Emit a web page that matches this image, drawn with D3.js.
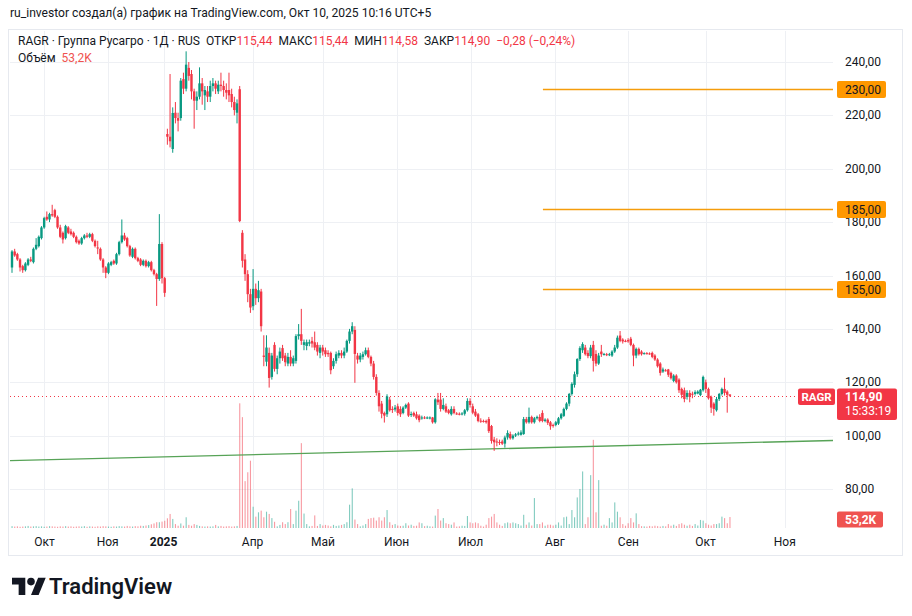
<!DOCTYPE html>
<html>
<head>
<meta charset="utf-8">
<script src="https://cdn.jsdelivr.net/npm/d3@7"></script>
<style>
  body { margin: 0; background: #fff; }
  text { white-space: pre; }
</style>
</head>
<body>
<div id="chart"></div>
<script>
// daily bars, [open, high, low, close]
const ohlc = [
  [163,169.5,161,169],[169,170,167,167.5],[168,168.5,165.5,166],[166,166.5,161.5,163],[163.5,164,161,162],
  [162,165,161.5,164.5],[164,166.5,163.5,166],[166,167,165,165.5],[165,170.5,164.5,170],[170,174,169.5,171.5],
  [171,175,170.5,174.5],[174,178.5,173.5,178],[178,182,177.5,181.5],[182,184,180.5,181],[181,183.5,180,183],
  [183,186.5,182,182.5],[184.5,185,181.5,182],[182,182.5,177.5,178],[178,179,174,174.5],[176,176.5,172,173.5],
  [174,179,173.5,178.5],[178,178.5,175.5,176],[176.5,177.5,175,175.5],[176,176.5,174,174.5],[174.5,175,172,172.5],
  [173,173.5,171.5,172],[172,174.5,171.5,174],[174,175.5,173.5,175],[175,176,174,174.5],[174.5,176,174,175.5],
  [175.5,176,172.5,173],[173,173.5,170.5,171],[170.5,173,168,170.2],[170,170.5,165.5,166],[166,166.5,161,163],
  [163,163.5,159,161],[161,165,160.5,164.5],[164,165.5,163.5,165],[165.5,166,164,164.5],[164.5,168.5,164,168],
  [168,173,167.5,172.5],[172.5,181,172,175],[175,176,173,173.5],[174,174.5,170.5,171],[171,171.5,167,167.5],
  [167,170.5,166.5,170],[170,170.5,166,166.5],[166.5,167,165,165.5],[166,166.5,163.5,164],[164,166,163.5,165.5],
  [165.5,166,163,163.5],[163.5,165.5,163,165],[165,165.5,161.5,162],[162,162.5,160,160.5],[160.5,161,148.6,158.7],
  [158.7,183,158,171.8],[171.8,172.5,157,159],[159,159.5,152,153.5],
  [213,215,209,212],[212,235.5,208,210.3],[207.4,223,206,220.9],[221,225,217,219],[219,221,214,218],
  [219,234,218,233],[233.6,236,228,230],[230,244,229,239],[237.8,240,233,234.8],[235.5,237,226,229],
  [229,230,215,225.5],[225.5,229,222,227],[227,238,226,232],[232,234,224,229],[227.5,231,222,229.5],
  [229,231,225,227],[227,233,225,231],[231,234,229,232],[232,233,228,230],[229,233,228,231.5],
  [231.5,236,229,231],[231,233,227,229.5],[229.5,232,226,228.5],[229.5,236,225,227.5],[228,230,223,225],
  [225,227,220,222],[221,226,217,224.5],[229.8,231,180,180.4],
  [176,177,163,165.5],[166,168,158,160.5],[160.5,162,150,153],[153,155,146,148],[148.5,162.4,147,155],
  [155,157,149,151.5],[151.5,158,150,154.5],[154,155,139,141],[130,137.6,126,129.5],[127.7,137.6,126,133],
  [131,133,118,121.6],[122,131,121,130],[134,135,124,125],[125,130,123,129],[129,133,127,131.5],
  [132.8,134,128,129],[130,131,126,127.5],[127,131,126,129.5],[129.5,132,126,127],[127,130,126,129],
  [128,138,127,137.3],[137.3,141.8,136,138],[138,147.5,134,135.5],[134,136,132,135],[133.6,136,132,135],
  [134.5,136,133.5,135],[135.5,137,133,134.5],[135,139,132,133],[134,135,130,131.5],[131,134,129,133],
  [133,134,130,131.5],[132,133,129.5,130.5],[131,132,129.5,130.5],[131,131.5,123,124.5],[126,129,125,128],
  [128,131.5,127,130.5],[130,132,129,131],[131,132,129,130],[130,133,129,131.5],[131.5,136,131,135.5],
  [135.5,140,134.5,139],[139,142.5,138,141],[139.6,141,119.8,130.6],[130,131,127,128.5],[128.5,131,127.5,130],
  [129.5,131.5,128.5,130.5],[130.5,133,130,132],[132,133,129,129.5],[129.5,130,126,127],[127,128,121,122],
  [122,123,115,116],[116,117,109,111],[112,113,106.5,108.2],[108.5,109,104.9,107.5],[108,115.5,107,114.7],
  [113.5,114.5,109,109.5],[110,111,108.5,109.8],[109.8,111.5,109,110.5],[111,112,107.5,108.5],[110,111,107,108],
  [108.5,111,108,110.5],[110.5,112,110,111.5],[112,112.5,107,107.5],[108,109,107,108.1],[108.5,109,107,107.5],
  [108,109,106,106.5],[107.5,108,105,105.8],[106.7,107.5,106,106.8],[106.8,107.3,106.2,106.6],[106.7,107.2,106.2,106.8],
  [106.5,107.2,106.1,106.8],[106.8,107,104.5,105],[105,114,104.5,113.6],[113.5,116,111.5,112.5],[113.5,116,109,110],
  [110,114,109.5,111.5],[111,112,108.5,109],[109.5,110,108,108.5],[108,111,107.5,110],[110,111,108,108.5],
  [108.3,108.8,107.8,108.2],[108.2,108.7,107.6,108],[108,108.8,107.6,108.3],[108.2,110,107.5,109.5],[109.5,114,109,113],
  [113,114,110.5,111.5],[111,112,108,108.6],[109,110,107,107.5],[108,108.5,105,105.5],[105.6,106.5,104.8,105.5],
  [105.5,106,104.9,105.3],[105.5,106,104.5,105],[106.2,107,101,101.7],[103.6,104,97,98],[98.5,99.5,94.3,97.5],
  [97.8,99,96,97.5],[97.6,98.5,96.5,97.5],[97.8,98.5,96.5,97],[97,100,95.5,99.3],[99.3,102,98.5,101],
  [100.6,101.5,98.5,99],[99,100.5,98.5,100],[100,101,99.5,100.5],[100.5,101.5,100,100.8],[100.3,102,100,101.2],
  [100.6,107,100.3,106.2],[106.2,107,104.5,105],[105,110.5,104.5,107],[107,107.5,104.5,105],[105,107,104.5,106.5],
  [106.5,107.5,106,107],[107,108,105,105.5],[108.5,109.5,105,105.5],[105.5,106.5,105,106],[106,106.5,104,104.8],
  [105,105.5,102.2,103.5],[104,104.5,103,103.8],[104,105.5,103.5,105],[104.5,107,104,106.5],[106.5,108.5,106,108],
  [107.4,110.5,107,110],[110,112.5,109.5,112],[112,116,111,115.6],[115.6,120,115,119.4],[119,124,118,123],
  [123,129,122,128.7],[128.7,133.5,128,132.8],[132,135,131,134.3],[133,134,130,130.5],[131,132,129,129.8],
  [129.8,134,129,133],[134,135.5,124,128],[130.6,132,126,127],[127,131,126.5,130],[131.5,134,129.5,130.5],
  [130.5,131,130,130.6],[130.5,131,129.8,130.3],[130.3,131,129.8,130.5],[130,132,129.5,131.5],[131.5,134,131,133],
  [133,137.5,132.5,136.7],[137.5,139.2,135,135.5],[136,136.5,134.5,135.3],[135.5,136,135,135.4],[135.8,136.5,134.8,135.3],
  [136.3,137,133.5,134],[134,134.5,126,130],[130,133,129,132.5],[132.5,133,130,130.5],[131.5,132,130,130.5],
  [130.8,131.2,130.4,130.9],[130.9,131.3,130.4,130.8],[130.8,131.2,130.3,130.7],[131,131.5,129,129.5],[130,130.5,128,128.5],
  [128.5,129,125.5,126],[127,127.5,122.5,123.5],[124,125.5,123.5,124.8],[124.5,125,124,124.4],[124.8,125,122,122.8],
  [123.5,124,121,121.5],[120.5,123,120,122.5],[122.5,123,119.5,120],[121,121.5,116,117],[117.5,118,114,115.3],
  [117,118,112.5,113.7],[114.5,117,113.5,116],[116,117,112.5,114.5],[115.7,116.5,114,115.5],[115.6,117,115,116.3],
  [115.8,117,115.5,116.5],[115.2,117.5,114.8,117.2],[117,122.5,116.5,122],[120,121,116,117.5],[117.5,118,113.5,114],
  [114.5,115,108.5,110.5],[112,112.5,107.5,110],[109.5,114.5,109,113.7],[113.7,116,113,115.6],[115.6,118,115,117.5],
  [117.5,121.7,115,116],[116.5,117,108.6,115.3],[115.44,115.44,114.58,114.9]
];

// volume, thousands of shares
const volumes = [
  9,7,8,6,7,8,10,7,8,9, 7,8,6,7,9,8,7,6,8,7, 9,7,8,6,7,8,7,9,6,8,
  7,6,8,7,9,8,7,6,8,7, 9,8,7,10,8,7,9,8,11,10, 12,14,18,22,
  28,28,31,35,
  47,68,44,19,11,22,11,52,15,11,19,15,10,
  8,7,8,7,8,15,8,10,7,8,9,7,8,10,
  604,537,227,270,326,103,55,76,84,52,
  79,68,48,30,8,15,28,19,28,92,
  19,84,132,411,70,19,8,10,61,10,
  19,12,15,12,8,15,10,12,15,19,
  28,113,192,41,19,8,12,19,44,48,
  50,36,52,36,52,87,28,15,19,12,
  10,11,23,12,16,10,11,27,23,9,
  11,8,7,60,92,36,48,23,19,16,
  27,7,8,11,10,58,27,23,27,23,
  11,7,16,48,55,68,27,16,10,23,
  27,23,27,23,19,12,64,16,27,12,
  145,19,19,27,11,16,16,12,16,27,
  12,52,55,19,87,52,148,189,274,19,
  52,256,427,76,232,11,16,11,48,27,
  124,79,52,19,11,23,48,27,71,19,
  9,8,7,10,8,11,9,7,10,8,
  19,11,16,10,19,23,16,11,16,10,
  19,12,39,36,23,16,12,19,19,23,
  55,48,23,53.2
];

const monthLabels = ['Окт', 'Ноя', '2025', 'Апр', 'Май', 'Июн', 'Июл', 'Авг', 'Сен', 'Окт', 'Ноя'];
const monthBars = [12.1, 35.7, 56.6, 89.8, 116.1, 143.6, 171.2, 202.7, 230.1, 258.9, 288.5];
const priceTicks = [80, 100, 120, 140, 160, 180, 200, 220, 240];
const levels = [230, 185, 155];
const levelStartBar = 198.2;
const trendline = [[-0.75, 90.6], [307.6, 98.2]];
const lastClose = 114.90;

const W = 912, H = 616;
const FONT = 'Roboto, "Noto Sans", sans-serif';
const UP = '#089981', DOWN = '#F23645', LEVEL = '#FF9800';
const pane = { left: 10, right: 833, top: 31, bottom: 528 };
const fmt = v => v.toFixed(2).replace('.', ',');

const x = d3.scaleLinear().domain([0, ohlc.length - 1]).range([12, 729.9]);
const y = d3.scaleLinear().domain([80, 240]).range([489, 62]);
const yVol = d3.scaleLinear().domain([0, 620]).range([pane.bottom, pane.bottom - 128]);

const svg = d3.select('#chart').append('svg')
  .attr('width', W).attr('height', H)
  .style('font-family', FONT);

svg.append('rect').attr('width', W).attr('height', H).attr('fill', '#fff');

// header
svg.append('text')
  .attr('x', 10).attr('y', 17)
  .attr('font-size', 12.1).attr('fill', '#131722')
  .text('ru_investor создал(а) график на TradingView.com, Окт 10, 2025 10:16 UTC+5');

// chart frame
svg.append('rect')
  .attr('x', 8.5).attr('y', 29.5).attr('width', 894).attr('height', 526)
  .attr('fill', 'none').attr('stroke', '#e6e9ef');

svg.append('clipPath').attr('id', 'pane-clip')
  .append('rect')
  .attr('x', pane.left).attr('y', pane.top)
  .attr('width', pane.right - pane.left).attr('height', pane.bottom - pane.top);

const grid = svg.append('g');
grid.selectAll('.hgrid').data(priceTicks).join('line')
  .attr('x1', pane.left).attr('x2', pane.right)
  .attr('y1', d => Math.round(y(d)) + 0.5).attr('y2', d => Math.round(y(d)) + 0.5)
  .attr('stroke', '#eef0f4');
grid.selectAll('.vgrid').data(monthBars).join('line')
  .attr('x1', d => Math.round(x(d)) + 0.5).attr('x2', d => Math.round(x(d)) + 0.5)
  .attr('y1', pane.top).attr('y2', pane.bottom)
  .attr('stroke', '#eef0f4');

const plot = svg.append('g').attr('clip-path', 'url(#pane-clip)');

// volume
plot.append('g').selectAll('rect').data(volumes).join('rect')
  .attr('x', (d, i) => x(i) - 0.5)
  .attr('width', 1.1)
  .attr('y', d => yVol(d))
  .attr('height', d => pane.bottom - yVol(d))
  .attr('fill', (d, i) => ohlc[i][3] >= ohlc[i][0] ? UP : DOWN)
  .attr('fill-opacity', 0.5);

// support trend line
plot.append('line')
  .attr('x1', x(trendline[0][0])).attr('y1', y(trendline[0][1]))
  .attr('x2', x(trendline[1][0])).attr('y2', y(trendline[1][1]))
  .attr('stroke', '#57a357').attr('stroke-width', 1.3);

// horizontal levels
plot.append('g').selectAll('line').data(levels).join('line')
  .attr('x1', x(levelStartBar)).attr('x2', pane.right)
  .attr('y1', d => Math.round(y(d)) + 0.5).attr('y2', d => Math.round(y(d)) + 0.5)
  .attr('stroke', '#F59D0B').attr('stroke-width', 1.5);

// last price line
plot.append('line')
  .attr('x1', pane.left).attr('x2', pane.right)
  .attr('y1', Math.round(y(lastClose)) + 0.5).attr('y2', Math.round(y(lastClose)) + 0.5)
  .attr('stroke', DOWN).attr('stroke-dasharray', '1,3');

// candles
const candle = plot.append('g').selectAll('g').data(ohlc).join('g')
  .attr('fill', d => d[3] >= d[0] ? UP : DOWN);
candle.append('rect')
  .attr('x', (d, i) => x(i) - 0.5).attr('width', 1)
  .attr('y', d => y(d[1]))
  .attr('height', d => Math.max(1, y(d[2]) - y(d[1])));
candle.append('rect')
  .attr('x', (d, i) => x(i) - 1.2).attr('width', 2.4)
  .attr('y', d => y(Math.max(d[0], d[3])))
  .attr('height', d => Math.max(1, Math.abs(y(d[0]) - y(d[3]))));

// price axis
svg.append('g').selectAll('text').data(priceTicks).join('text')
  .attr('x', 845).attr('y', d => y(d) + 4)
  .attr('font-size', 12).attr('fill', '#131722')
  .text(fmt);

// level labels
const lvl = svg.append('g').selectAll('g').data(levels).join('g')
  .attr('transform', d => `translate(837,${Math.round(y(d)) - 8})`);
lvl.append('rect').attr('width', 49).attr('height', 17).attr('rx', 2).attr('fill', LEVEL);
lvl.append('text').attr('x', 8).attr('y', 12.5)
  .attr('font-size', 12).attr('fill', '#131722').text(fmt);

// last price labels
const yl = Math.round(y(lastClose));
svg.append('rect').attr('x', 798).attr('y', yl - 7.5).attr('width', 37).attr('height', 16.5)
  .attr('rx', 2).attr('fill', DOWN);
svg.append('text').attr('x', 816.5).attr('y', yl + 5)
  .attr('text-anchor', 'middle').attr('font-size', 11.5).attr('font-weight', 700)
  .attr('fill', '#fff').text('RAGR');
svg.append('rect').attr('x', 837).attr('y', yl - 7.5).attr('width', 60).attr('height', 31.5)
  .attr('rx', 2).attr('fill', DOWN);
svg.append('text').attr('x', 845).attr('y', yl + 5)
  .attr('font-size', 12).attr('font-weight', 700).attr('fill', '#fff').text(fmt(lastClose));
svg.append('text').attr('x', 845).attr('y', yl + 19)
  .attr('font-size', 12).attr('fill', '#fff').text('15:33:19');

// volume label
svg.append('rect').attr('x', 837).attr('y', 511.5).attr('width', 46).attr('height', 16)
  .attr('rx', 2).attr('fill', '#EF5350');
svg.append('text').attr('x', 845).attr('y', 524)
  .attr('font-size', 12).attr('font-weight', 700).attr('fill', '#fff').text('53,2K');

// time axis
svg.append('g').selectAll('text').data(monthBars).join('text')
  .attr('x', d => x(d)).attr('y', 546)
  .attr('text-anchor', 'middle')
  .attr('font-size', 12).attr('fill', '#131722')
  .attr('font-weight', (d, i) => monthLabels[i] === '2025' ? 700 : 400)
  .text((d, i) => monthLabels[i]);

// legend
const legend = svg.append('text').attr('x', 18).attr('y', 45).attr('font-size', 12).attr('fill', '#131722');
const parts = [
  ['RAGR · Группа Русагро · 1Д · RUS  ОТКР', '#131722'], ['115,44', DOWN],
  ['  МАКС', '#131722'], ['115,44', DOWN],
  ['  МИН', '#131722'], ['114,58', DOWN],
  ['  ЗАКР', '#131722'], ['114,90', DOWN],
  ['  −0,28 (−0,24%)', DOWN]
];
legend.selectAll('tspan').data(parts).join('tspan')
  .attr('fill', d => d[1]).text(d => d[0]);

const legend2 = svg.append('text').attr('x', 18).attr('y', 62).attr('font-size', 12);
legend2.append('tspan').attr('fill', '#131722').text('Объём  ');
legend2.append('tspan').attr('fill', '#EF5350').text('53,2K');

// TradingView logo
const logo = svg.append('g').attr('transform', 'translate(12,574) scale(0.95)').attr('fill', '#131722');
logo.append('path').attr('d', 'M14 22H7V11H0V4h14v18zM28 22h-8l7.5-18h8L28 22z');
logo.append('circle').attr('cx', 20).attr('cy', 8).attr('r', 4);
svg.append('text').attr('x', 49).attr('y', 594)
  .attr('font-size', 22).attr('font-weight', 600).attr('fill', '#131722')
  .text('TradingView');
</script>
</body>
</html>
